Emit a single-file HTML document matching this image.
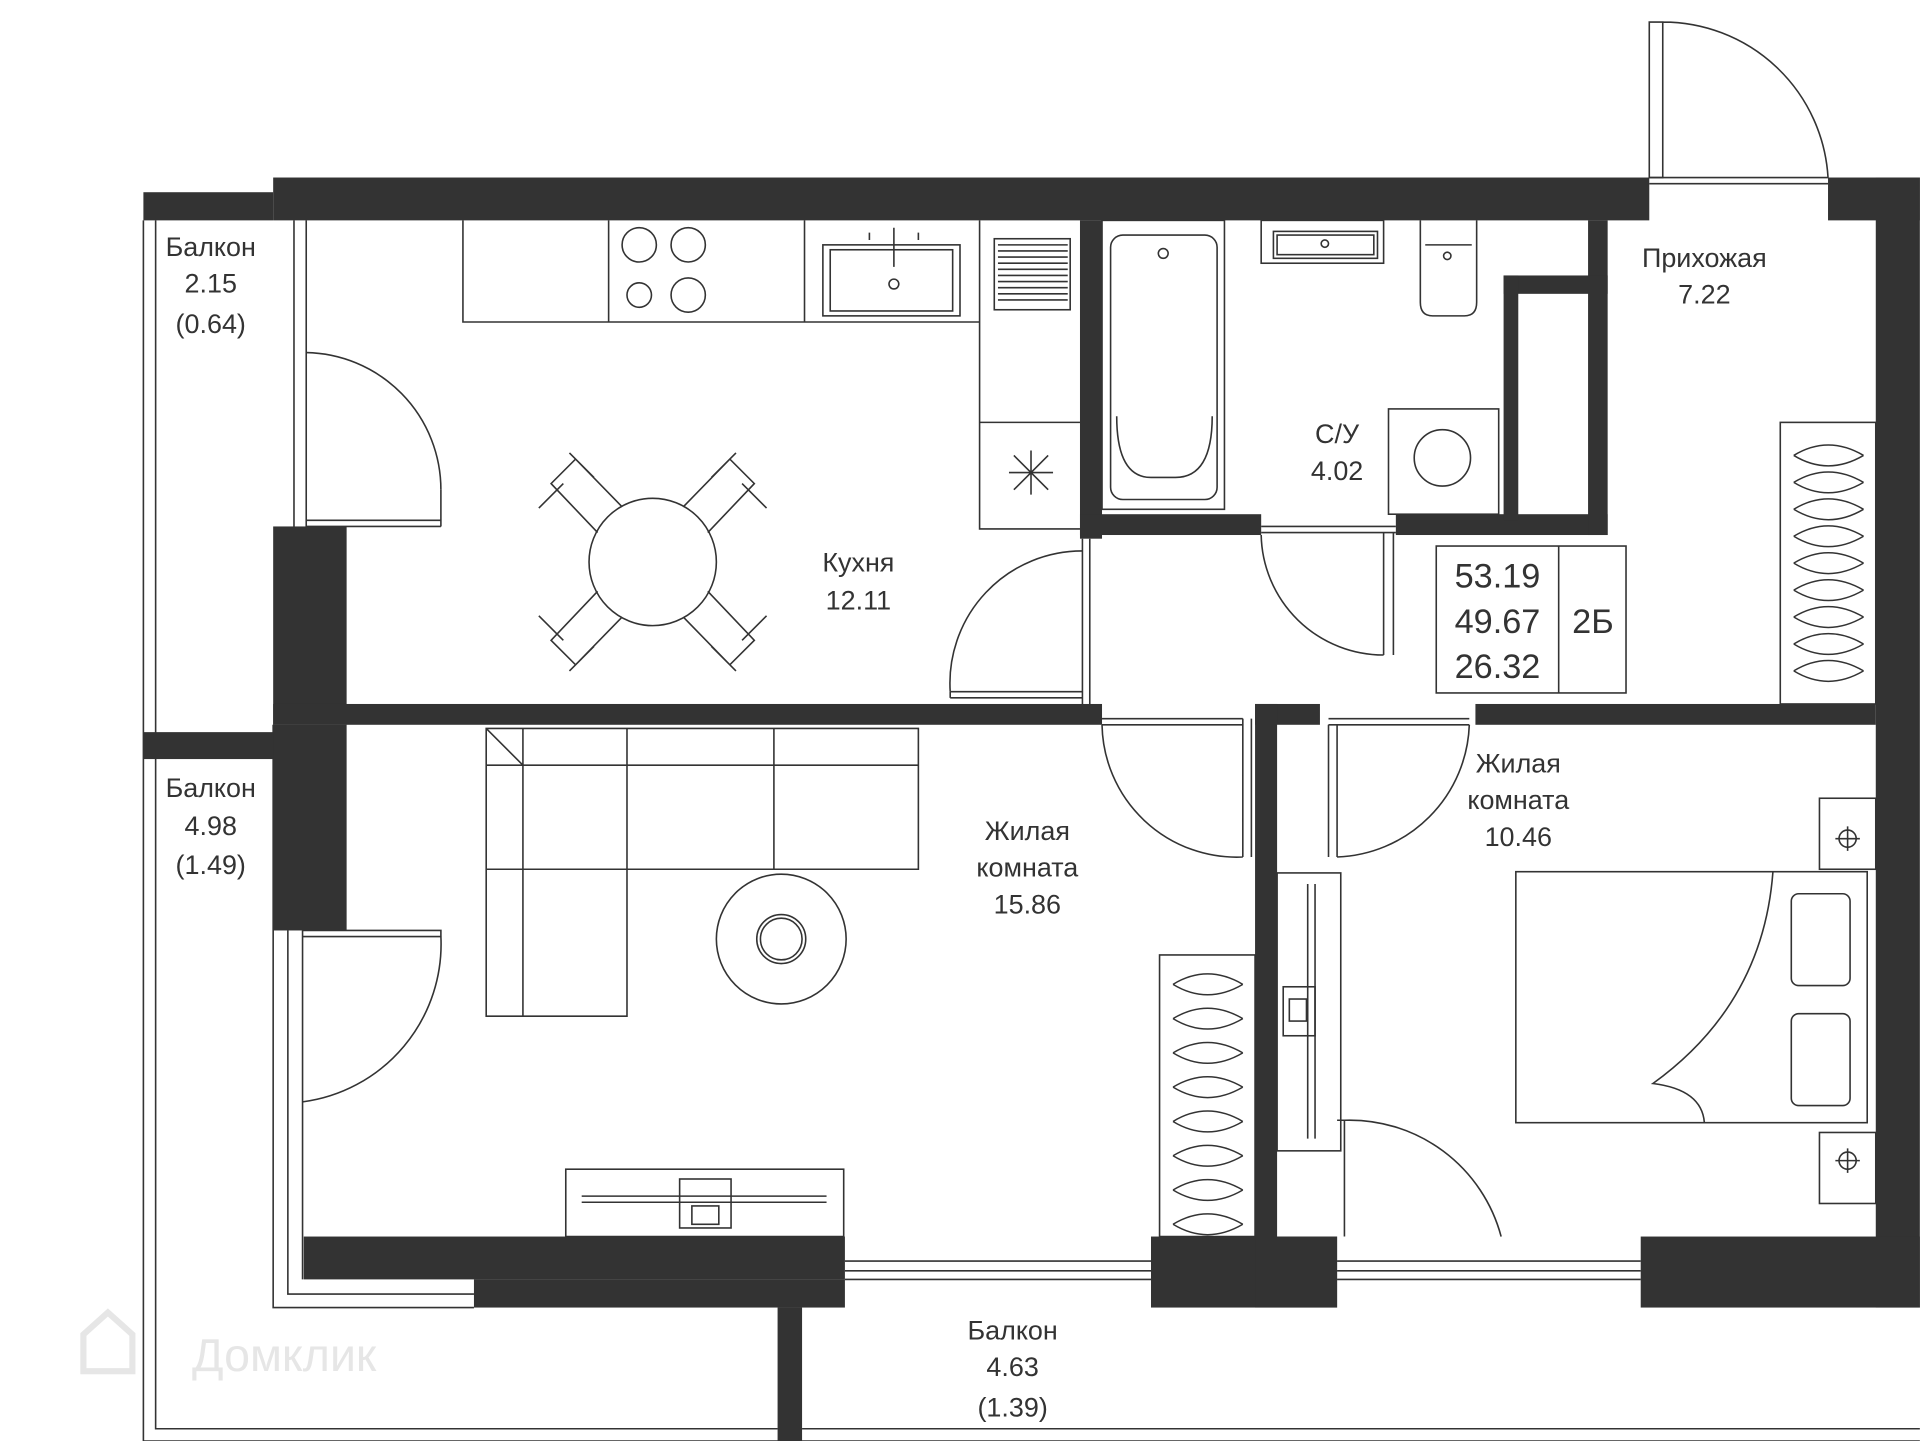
<!DOCTYPE html>
<html><head><meta charset="utf-8"><style>
html,body{margin:0;padding:0;background:#fff;}
svg{display:block;}
text{font-family:"Liberation Sans","DejaVu Sans",sans-serif;fill:#333;}
</style></head><body>
<svg width="1920" height="1441" viewBox="0 0 1568 1177" xmlns="http://www.w3.org/2000/svg">
<g fill="none" stroke="#333" stroke-width="1.3">
<!-- balcony outlines -->
<path d="M117 180 V1177 H1568"/>
<path d="M127 180 V1167 H635"/>
<path d="M655 1167 H1568"/>
<path d="M223 592 V1068 H387"/>
<path d="M235 760 V1057 H387 M247 760 V1045"/>
<path d="M240 180 V430 M250 180 V430"/>
<!-- windows bottom -->
<path d="M690 1030 H940 M690 1038 H940 M690 1045 H940"/>
<path d="M1092 1030 H1340 M1092 1038 H1340 M1092 1045 H1340"/>
<!-- kitchen door opening -->
<path d="M884 440 V575 M890 440 V575"/>
<path d="M776 565 H884 M776 570 H884 M776 565 V570"/>
<path d="M776 565 A108 108 0 0 1 884 450"/>
<!-- kitchen balcony door -->
<path d="M250 288 A112 112 0 0 1 360 400"/>
<path d="M250 425 H360 M250 430 H360 M360 400 V430"/>
<!-- living balcony door -->
<path d="M247 760 H360 V765 H247 M247 900 A130 130 0 0 0 360 765"/>
<!-- bathroom door -->
<path d="M1030 430 H1140 M1030 435 H1140 M1130 435 V535 M1138 435 V535 M1030 437 A100 100 0 0 0 1130 535"/>
<!-- living door -->
<path d="M900 587 H1015 M900 592 H1015 M1015 587 V700 M1022 587 V700 M900 592 A110 110 0 0 0 1015 700"/>
<!-- bedroom door -->
<path d="M1085 587 H1200 M1085 592 H1200 M1085 592 V700 M1092 592 V700 M1200 592 A112 112 0 0 1 1092 700"/>
<!-- bedroom lower door -->
<path d="M1092 915 H1098 V1010 M1098 915 A128 128 0 0 1 1226 1010"/>
<!-- entry door -->
<path d="M1347 18 H1358 V145 H1347 Z M1358 18 A135 135 0 0 1 1493 145"/>
<path d="M1347 150 H1493 M1347 145 H1493"/>
<!-- kitchen counters -->
<path d="M378 180 V263 H800 M800 263 V432 H882 M800 180 V263"/>
<path d="M497 180 V263 M657 180 V263 M800 345 H882"/>
<circle cx="522" cy="200" r="14"/><circle cx="562" cy="200" r="14"/>
<circle cx="522" cy="241" r="10"/><circle cx="562" cy="241" r="14"/>
<rect x="672" y="200" width="112" height="58"/><rect x="678" y="204" width="100" height="50"/>
<circle cx="730" cy="232" r="4"/><path d="M730 186 V218 M710 190 V196 M750 190 V196"/>
<rect x="812" y="195" width="62" height="58"/>
<path d="M815 200 H872 M815 205 H872 M815 210 H872 M815 215 H872 M815 220 H872 M815 225 H872 M815 230 H872 M815 235 H872 M815 240 H872 M815 245 H872"/>
<path d="M828 372 L856 400 M856 372 L828 400 M842 368 V404 M824 386 H860"/>
<!-- table -->
<circle cx="533" cy="459" r="52"/>
<path d="M488 435 L450 395 L470 375 L508 414 M440 415 L460 395 M465 370 L485 390"/>
<path d="M578 435 L616 395 L596 375 L558 414 M626 415 L606 395 M601 370 L581 390"/>
<path d="M488 483 L450 523 L470 543 L508 504 M440 503 L460 523 M465 548 L485 528"/>
<path d="M578 483 L616 523 L596 543 L558 504 M626 503 L606 523 M601 548 L581 528"/>
<!-- bathroom -->
<rect x="900" y="180" width="100" height="236"/>
<rect x="907" y="192" width="87" height="216" rx="10"/>
<path d="M912 340 Q912 390 940 390 H960 Q990 390 990 340"/>
<circle cx="950" cy="207" r="4"/>
<rect x="1030" y="180" width="100" height="35"/><rect x="1040" y="189" width="85" height="22"/><rect x="1043" y="192" width="79" height="16"/>
<circle cx="1082" cy="199" r="3"/>
<path d="M1160 180 V247 Q1160 258 1170 258 H1196 Q1206 258 1206 247 V180 M1164 200 H1202"/>
<circle cx="1182" cy="209" r="3"/>
<rect x="1134" y="334" width="90" height="86"/><circle cx="1178" cy="374" r="23"/>
<!-- info box -->
<rect x="1173" y="446" width="155" height="120"/><path d="M1273 446 V566"/>
<!-- hall wardrobe -->
<rect x="1454" y="345" width="78" height="230"/>
<!-- living room sofa -->
<path d="M397 595 H750 V710 H512 V830 H397 Z M427 595 V830 M397 625 H750 M397 710 H512 M512 595 V710 M632 595 V710 M427 625 L397 595"/>
<circle cx="638" cy="767" r="53"/><circle cx="638" cy="767" r="20"/><circle cx="638" cy="767" r="17"/>
<rect x="947" y="780" width="78" height="230"/>
<rect x="462" y="955" width="227" height="55"/><path d="M475 977 H675 M475 982 H675"/>
<rect x="555" y="963" width="42" height="40"/><rect x="565" y="985" width="22" height="15"/>
<!-- bedroom -->
<rect x="1043" y="713" width="52" height="227"/>
<path d="M1068 722 V930 M1074 722 V930"/>
<rect x="1048" y="806" width="26" height="40"/><rect x="1053" y="816" width="14" height="18"/>
<rect x="1238" y="712" width="287" height="205"/>
<path d="M1448 712 Q1440 820 1350 885 Q1390 890 1392 917"/>
<rect x="1463" y="730" width="48" height="75" rx="6"/><rect x="1463" y="828" width="48" height="75" rx="6"/>
<rect x="1486" y="652" width="46" height="58"/><rect x="1486" y="925" width="46" height="58"/>
<circle cx="1509" cy="685" r="7"/><path d="M1509 675 V695 M1499 685 H1519"/>
<circle cx="1509" cy="948" r="7"/><path d="M1509 938 V958 M1499 948 H1519"/>
</g>
<!-- wardrobe hangers -->
<g fill="none" stroke="#333" stroke-width="1.2">
<path id="h" d="M1465 372 Q1493 355 1522 372 M1465 372 Q1493 389 1522 372"/>
<use href="#h" y="22"/><use href="#h" y="44"/><use href="#h" y="66"/><use href="#h" y="88"/><use href="#h" y="110"/><use href="#h" y="132"/><use href="#h" y="154"/><use href="#h" y="176"/>
<g transform="translate(-507 432)"><use href="#h"/><use href="#h" y="28"/><use href="#h" y="56"/><use href="#h" y="84"/><use href="#h" y="112"/><use href="#h" y="140"/><use href="#h" y="168"/><use href="#h" y="196"/></g>
</g>
<!-- walls -->
<g fill="#333">
<rect x="223" y="145" width="1124" height="35"/>
<rect x="117" y="157" width="106" height="23"/>
<rect x="1493" y="145" width="75" height="35"/>
<rect x="1532" y="145" width="36" height="923"/>
<rect x="223" y="430" width="60" height="162"/>
<rect x="223" y="575" width="677" height="17"/>
<rect x="117" y="598" width="106" height="22"/>
<rect x="223" y="592" width="60" height="168"/>
<rect x="248" y="1010" width="442" height="35"/>
<rect x="387" y="1045" width="303" height="23"/>
<rect x="940" y="1010" width="152" height="58"/>
<rect x="1340" y="1010" width="228" height="58"/>
<rect x="635" y="1068" width="20" height="109"/>
<rect x="882" y="180" width="18" height="260"/>
<rect x="882" y="420" width="148" height="17"/>
<rect x="1140" y="420" width="173" height="17"/>
<rect x="1297" y="180" width="16" height="257"/>
<rect x="1228" y="225" width="85" height="15"/>
<rect x="1228" y="225" width="12" height="200"/>
<rect x="1025" y="575" width="53" height="17"/>
<rect x="1205" y="575" width="327" height="17"/>
<rect x="1025" y="575" width="18" height="435"/>
<rect x="1025" y="1010" width="67" height="58"/>
</g>
<!-- labels -->
<g font-size="22" text-anchor="middle">
<text x="172" y="209">Балкон</text><text x="172" y="239">2.15</text><text x="172" y="272">(0.64)</text>
<text x="172" y="651">Балкон</text><text x="172" y="682">4.98</text><text x="172" y="714">(1.49)</text>
<text x="827" y="1094">Балкон</text><text x="827" y="1124">4.63</text><text x="827" y="1157">(1.39)</text>
<text x="1392" y="218">Прихожая</text><text x="1392" y="248">7.22</text>
<text x="1092" y="362">С/У</text><text x="1092" y="392">4.02</text>
<text x="701" y="467">Кухня</text><text x="701" y="498">12.11</text>
<text x="839" y="686">Жилая</text><text x="839" y="716">комната</text><text x="839" y="746">15.86</text>
<text x="1240" y="631">Жилая</text><text x="1240" y="661">комната</text><text x="1240" y="691">10.46</text>
</g>
<g font-size="28" text-anchor="middle">
<text x="1223" y="480">53.19</text><text x="1223" y="517">49.67</text><text x="1223" y="554">26.32</text>
<text x="1301" y="517">2Б</text>
</g>
<text x="232" y="1120" font-size="38" fill="#e4e4e4" style="fill:#e6e6e6" text-anchor="middle">Домклик</text>
<path d="M68 1120 V1090 L88 1072 L108 1090 V1120 Z" fill="none" stroke="#e6e6e6" stroke-width="5"/>
</svg>
</body></html>
